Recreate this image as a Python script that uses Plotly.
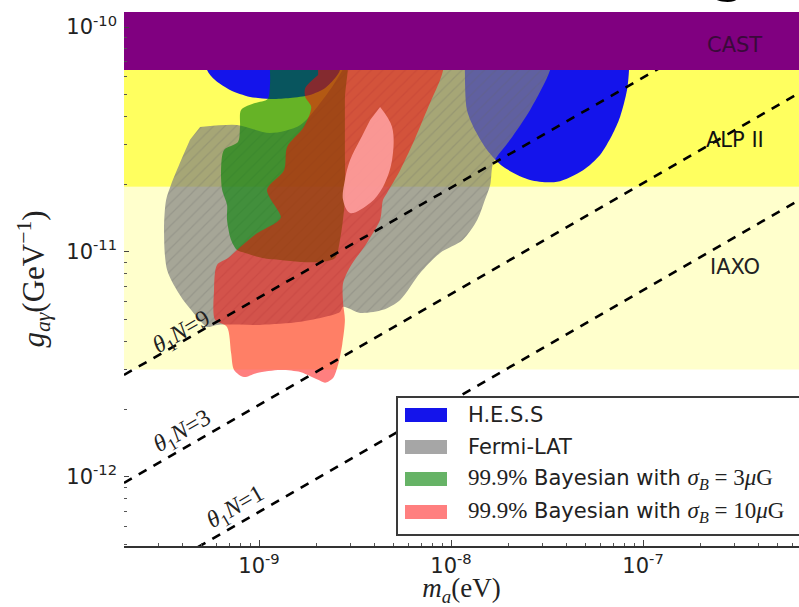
import numpy as np
import plotly.graph_objects as go

# ---------------- axis extents (eV, GeV^-1) ----------------
m_range = [1.98e-10, 6.49e-7]
g_range = [4.93e-13, 1.166e-10]

x_tickvals = [1e-9, 1e-8, 1e-7]
x_ticktext = ["10<sup>-9</sup>", "10<sup>-8</sup>", "10<sup>-7</sup>"]
y_tickvals = [1e-12, 1e-11, 1e-10]
y_ticktext = ["10<sup>-12</sup>", "10<sup>-11</sup>", "10<sup>-10</sup>"]

# ---------------- experimental bands ----------------
band_names = ["IAXO", "ALP II", "CAST"]
band_low = [3.0e-12, 1.95e-11, 6.44e-11]
band_high = [1.95e-11, 6.44e-11, 1.0e-9]
band_colors = ["#FFFFCC", "#FFFF5F", "#800080"]

# ---------------- H.E.S.S (two islands) ----------------
hess_main_m = [1.18e-8, 1.18e-8, 1.21e-8, 1.35e-8, 1.54e-8, 1.87e-8, 2.58e-8, 3.57e-8,
               4.87e-8, 5.97e-8, 6.90e-8, 7.59e-8, 8.25e-8, 8.45e-8, 8.45e-8]
hess_main_g = [8.75e-11, 6.44e-11, 4.28e-11, 3.41e-11, 2.84e-11, 2.39e-11, 2.09e-11, 2.05e-11,
               2.31e-11, 2.70e-11, 3.31e-11, 3.98e-11, 5.25e-11, 6.44e-11, 8.75e-11]
hess_dome_m = [5.23e-10, 5.36e-10, 5.90e-10, 7.06e-10, 8.98e-10, 1.14e-9, 1.45e-9, 1.84e-9,
               2.21e-9, 2.49e-9, 2.64e-9, 2.64e-9]
hess_dome_g = [8.75e-11, 6.44e-11, 5.81e-11, 5.25e-11, 4.89e-11, 4.79e-11, 4.84e-11, 4.99e-11,
               5.36e-11, 5.93e-11, 6.44e-11, 8.75e-11]

# ---------------- Fermi-LAT ----------------
fermi_m = [4.93e-10, 7.68e-10, 1.14e-9, 1.64e-9, 2.34e-9, 2.98e-9, 4.27e-9, 3.48e-8, 3.28e-8,
           2.58e-8, 2.03e-8, 1.66e-8, 1.60e-8, 1.50e-8, 1.37e-8, 1.15e-8, 8.76e-9, 6.90e-9,
           5.43e-9, 4.42e-9, 3.36e-9, 2.74e-9, 2.64e-9, 1.64e-9, 1.01e-9, 6.04e-10, 5.36e-10,
           4.76e-10, 3.93e-10, 3.32e-10, 3.20e-10, 3.28e-10, 3.48e-10, 3.93e-10, 4.37e-10]
fermi_g = [3.59e-11, 3.67e-11, 3.38e-11, 3.67e-11, 5.25e-11, 7.14e-11, 8.75e-11, 8.75e-11, 6.44e-11,
           4.28e-11, 3.15e-11, 2.49e-11, 1.99e-11, 1.70e-11, 1.39e-11, 1.13e-11, 9.90e-12, 8.06e-12,
           6.12e-12, 5.53e-12, 5.36e-12, 5.70e-12, 5.41e-12, 4.89e-12, 4.74e-12, 4.74e-12, 4.64e-12,
           5.14e-12, 6.31e-12, 8.32e-12, 1.25e-11, 1.70e-11, 1.99e-11, 2.56e-11, 3.15e-11]

# ---------------- 99.9% Bayesian, sigma_B = 3 muG ----------------
bayes3_m = [1.11e-9, 2.80e-9, 2.80e-9, 2.80e-9, 2.80e-9, 2.64e-9, 2.49e-9, 2.08e-9, 1.64e-9,
            1.29e-9, 1.04e-9, 8.46e-10, 7.68e-10, 7.15e-10, 6.81e-10, 6.81e-10, 6.42e-10,
            6.34e-10, 6.57e-10, 7.77e-10, 7.96e-10, 8.06e-10, 9.53e-10, 1.11e-9, 1.14e-9, 1.14e-9]
bayes3_g = [8.75e-11, 8.75e-11, 4.74e-11, 2.84e-11, 1.70e-11, 1.13e-11, 9.40e-12, 9.03e-12, 9.03e-12,
            9.21e-12, 9.40e-12, 9.90e-12, 1.02e-11, 1.13e-11, 1.39e-11, 1.62e-11, 1.89e-11,
            2.31e-11, 2.84e-11, 3.08e-11, 3.59e-11, 4.28e-11, 4.59e-11, 4.79e-11, 5.52e-11, 6.44e-11]

# ---------------- 99.9% Bayesian, sigma_B = 10 muG ----------------
bayes10_m = [2.03e-9, 9.31e-9, 9.09e-9, 8.76e-9, 7.50e-9, 6.34e-9, 5.43e-9, 4.64e-9, 4.42e-9,
             4.27e-9, 3.65e-9, 2.98e-9, 2.74e-9, 2.74e-9, 2.80e-9, 2.71e-9, 2.58e-9, 2.43e-9,
             2.21e-9, 2.03e-9, 1.84e-9, 1.64e-9, 1.29e-9, 9.76e-10, 8.35e-10, 7.41e-10, 7.15e-10,
             6.81e-10, 5.90e-10, 5.83e-10, 6.04e-10, 6.90e-10, 7.68e-10, 9.76e-10, 1.24e-9,
             1.30e-9, 1.10e-9, 1.35e-9, 1.40e-9, 1.71e-9, 1.87e-9, 1.74e-9, 1.74e-9, 2.03e-9]
bayes10_g = [8.75e-11, 8.75e-11, 6.44e-11, 5.81e-11, 4.28e-11, 3.05e-11, 2.31e-11, 1.83e-11, 1.70e-11,
             1.39e-11, 1.10e-11, 8.58e-12, 7.28e-12, 5.93e-12, 4.99e-12, 3.86e-12, 3.15e-12, 2.75e-12,
             2.62e-12, 2.70e-12, 2.81e-12, 2.93e-12, 2.99e-12, 2.90e-12, 2.78e-12, 2.99e-12, 3.56e-12,
             4.64e-12, 4.99e-12, 6.78e-12, 8.76e-12, 9.40e-12, 1.02e-11, 1.21e-11, 1.36e-11,
             1.43e-11, 1.89e-11, 2.31e-11, 2.93e-11, 3.59e-11, 4.41e-11, 4.89e-11, 5.36e-11, 6.12e-11]
bayes10_core_m = [4.27e-9, 4.93e-9, 4.93e-9, 4.42e-9, 3.79e-9, 2.98e-9, 2.74e-9, 2.80e-9, 2.98e-9,
                  3.36e-9, 3.79e-9]
bayes10_core_g = [4.41e-11, 3.59e-11, 2.56e-11, 1.945e-11, 1.65e-11, 1.49e-11, 1.70e-11, 2.09e-11,
                  2.56e-11, 3.15e-11, 3.86e-11]

# ---------------- theta_1 N lines (two points each) ----------------
line_labels = ["9", "3", "1"]
line9_m = [1.98e-10, 1.98e-7]
line9_g = [2.84e-12, 8.32e-11]
line3_m = [1.98e-10, 6.49e-7]
line3_g = [9.40e-13, 5.09e-11]
line1_m = [1.98e-10, 6.49e-7]
line1_g = [3.15e-13, 1.70e-11]
line_label_m = [3.97e-10, 4.02e-10, 7.59e-10]
line_label_g = [4.37e-12, 1.58e-12, 7.28e-13]

# ---------------- legend ----------------
MATH = '<span style="font-family:Liberation Serif;font-size:23px">'
legend_labels = [
    "H.E.S.S",
    "Fermi-LAT",
    MATH + "99.9%</span> Bayesian with " + MATH + "<i>σ</i><sub><i>B</i></sub> = 3<i>μ</i>G</span>",
    MATH + "99.9%</span> Bayesian with " + MATH + "<i>σ</i><sub><i>B</i></sub> = 10<i>μ</i>G</span>",
]
hess_color = "rgb(20,20,235)"
fermi_color = "rgba(128,128,128,0.70)"
green_color = "rgba(0,128,0,0.60)"
red_color = "rgba(255,0,0,0.50)"
core_color = "rgba(255,160,160,0.88)"
legend_colors = [hess_color, fermi_color, green_color, red_color]

fig = go.Figure()

# bands below the regions (CAST added last so it covers everything)
for lo, hi, col in zip(band_low[:2], band_high[:2], band_colors[:2]):
    fig.add_trace(go.Scatter(
        x=[m_range[0], m_range[1], m_range[1], m_range[0], m_range[0]],
        y=[lo, lo, hi, hi, lo], mode="lines", fill="toself", fillcolor=col,
        line=dict(width=0), showlegend=False, hoverinfo="skip"))

common = dict(mode="lines", fill="toself", showlegend=False, hoverinfo="skip")

fig.add_trace(go.Scatter(x=hess_main_m + [None] + hess_dome_m,
                         y=hess_main_g + [None] + hess_dome_g,
                         fillcolor=hess_color, line=dict(width=0, shape="spline", smoothing=0.8),
                         **common))
fig.add_trace(go.Scatter(x=fermi_m, y=fermi_g, fillcolor=fermi_color,
                         fillpattern=dict(shape="/", bgcolor=fermi_color,
                                          fgcolor="rgba(95,95,95,0.45)", size=8, solidity=0.15),
                         line=dict(width=0, shape="spline", smoothing=0.8), **common))
fig.add_trace(go.Scatter(x=bayes3_m, y=bayes3_g, fillcolor=green_color,
                         line=dict(width=0, shape="spline", smoothing=0.8), **common))
fig.add_trace(go.Scatter(x=bayes10_m, y=bayes10_g, fillcolor=red_color,
                         line=dict(width=0, shape="spline", smoothing=0.8), **common))
fig.add_trace(go.Scatter(x=bayes10_core_m, y=bayes10_core_g, fillcolor=core_color,
                         line=dict(width=0, shape="spline", smoothing=1.0), **common))

for lm, lg in [(line9_m, line9_g), (line3_m, line3_g), (line1_m, line1_g)]:
    fig.add_trace(go.Scatter(x=lm, y=lg, mode="lines",
                             line=dict(color="black", width=2.6, dash="9px,8px"),
                             showlegend=False, hoverinfo="skip"))

# CAST on top
fig.add_trace(go.Scatter(
    x=[m_range[0], m_range[1], m_range[1], m_range[0], m_range[0]],
    y=[band_low[2], band_low[2], band_high[2], band_high[2], band_low[2]],
    mode="lines", fill="toself", fillcolor=band_colors[2], line=dict(width=0),
    showlegend=False, hoverinfo="skip"))

serif = "Liberation Serif"
sans = "DejaVu Sans"

annotations = []
# band labels
band_label_g = [8.58e-12, 3.15e-11, 8.32e-11]
band_label_colors = ["#222222", "#111111", "#3a0a3a"]
for name, gl, col in zip(band_names, band_label_g, band_label_colors):
    annotations.append(dict(x=0.905, xref="paper", xanchor="center", y=np.log10(gl), yref="y",
                            text=name, showarrow=False, font=dict(family=sans, size=21, color=col)))

# theta labels
for lab, lm, lg in zip(line_labels, line_label_m, line_label_g):
    annotations.append(dict(x=np.log10(lm), y=np.log10(lg), xref="x", yref="y",
                            text="<i>θ</i><sub>1</sub><i>N</i>=" + lab, showarrow=False,
                            textangle=-30, font=dict(family=serif, size=24, color="#222222")))

# manual legend (matplotlib style)
plot_l, plot_r, plot_t, plot_b = 124, 799, 12, 546
pw, ph = plot_r - plot_l, plot_b - plot_t
def px(x):
    return (x - plot_l) / pw
def py(y):
    return (plot_b - y) / ph

# stray cropped glyph at the top edge
annotations.append(dict(x=px(729), xref="paper", xanchor="center", y=py(5), yref="paper",
                        yanchor="bottom", text="g", showarrow=False,
                        font=dict(family=sans, size=60, color="black")))

shapes = [dict(type="rect", xref="paper", yref="paper", x0=px(397), x1=px(802),
               y0=py(535), y1=py(397), fillcolor="white",
               line=dict(color="#3a3a3a", width=2), layer="above")]
row_y = [415, 447, 479, 512]
for lab, col, ry in zip(legend_labels, legend_colors, row_y):
    shapes.append(dict(type="rect", xref="paper", yref="paper", x0=px(405), x1=px(447),
                       y0=py(ry + 7), y1=py(ry - 7), fillcolor=col, line=dict(width=0),
                       layer="above"))
    annotations.append(dict(x=px(466), y=py(ry), xref="paper", yref="paper", xanchor="left",
                            yanchor="middle", text=lab, showarrow=False,
                            font=dict(family=sans, size=21, color="#222222")))

minor_x = [k * 10.0 ** e for e in range(-10, -6) for k in range(2, 10)]
minor_y = [k * 10.0 ** e for e in range(-13, -9) for k in range(2, 10)]

fig.update_layout(
    width=799, height=607,
    margin=dict(l=plot_l, r=799 - plot_r, t=plot_t, b=607 - plot_b),
    paper_bgcolor="white", plot_bgcolor="white",
    shapes=shapes, annotations=annotations, showlegend=False,
    xaxis=dict(type="log", range=[np.log10(m_range[0]), np.log10(m_range[1])],
               tickmode="array", tickvals=x_tickvals, ticktext=x_ticktext,
               ticks="inside", ticklen=6, tickcolor="#444", tickwidth=1,
               showgrid=False, zeroline=False, showline=True, linecolor="#333", linewidth=2,
               tickfont=dict(family=sans, size=21, color="#222"),
               minor=dict(tickvals=minor_x, ticks="inside", ticklen=3, tickcolor="#555", showgrid=False),
               title=dict(text="<i>m</i><sub><i>a</i></sub>(eV)", standoff=5,
                          font=dict(family=serif, size=27, color="#222"))),
    yaxis=dict(type="log", range=[np.log10(g_range[0]), np.log10(g_range[1])],
               tickmode="array", tickvals=y_tickvals, ticktext=y_ticktext,
               ticks="inside", ticklen=5, tickcolor="#444", tickwidth=1,
               ticklabelstandoff=6,
               showgrid=False, zeroline=False, showline=False,
               tickfont=dict(family=sans, size=21, color="#222"),
               minor=dict(tickvals=minor_y, ticks="inside", ticklen=3, tickcolor="#555", showgrid=False),
               title=dict(text="<i>g</i><sub><i>aγ</i></sub>(GeV<sup>−1</sup>)", standoff=12,
                          font=dict(family=serif, size=31, color="#222"))),
)

fig.write_html("out.html")
